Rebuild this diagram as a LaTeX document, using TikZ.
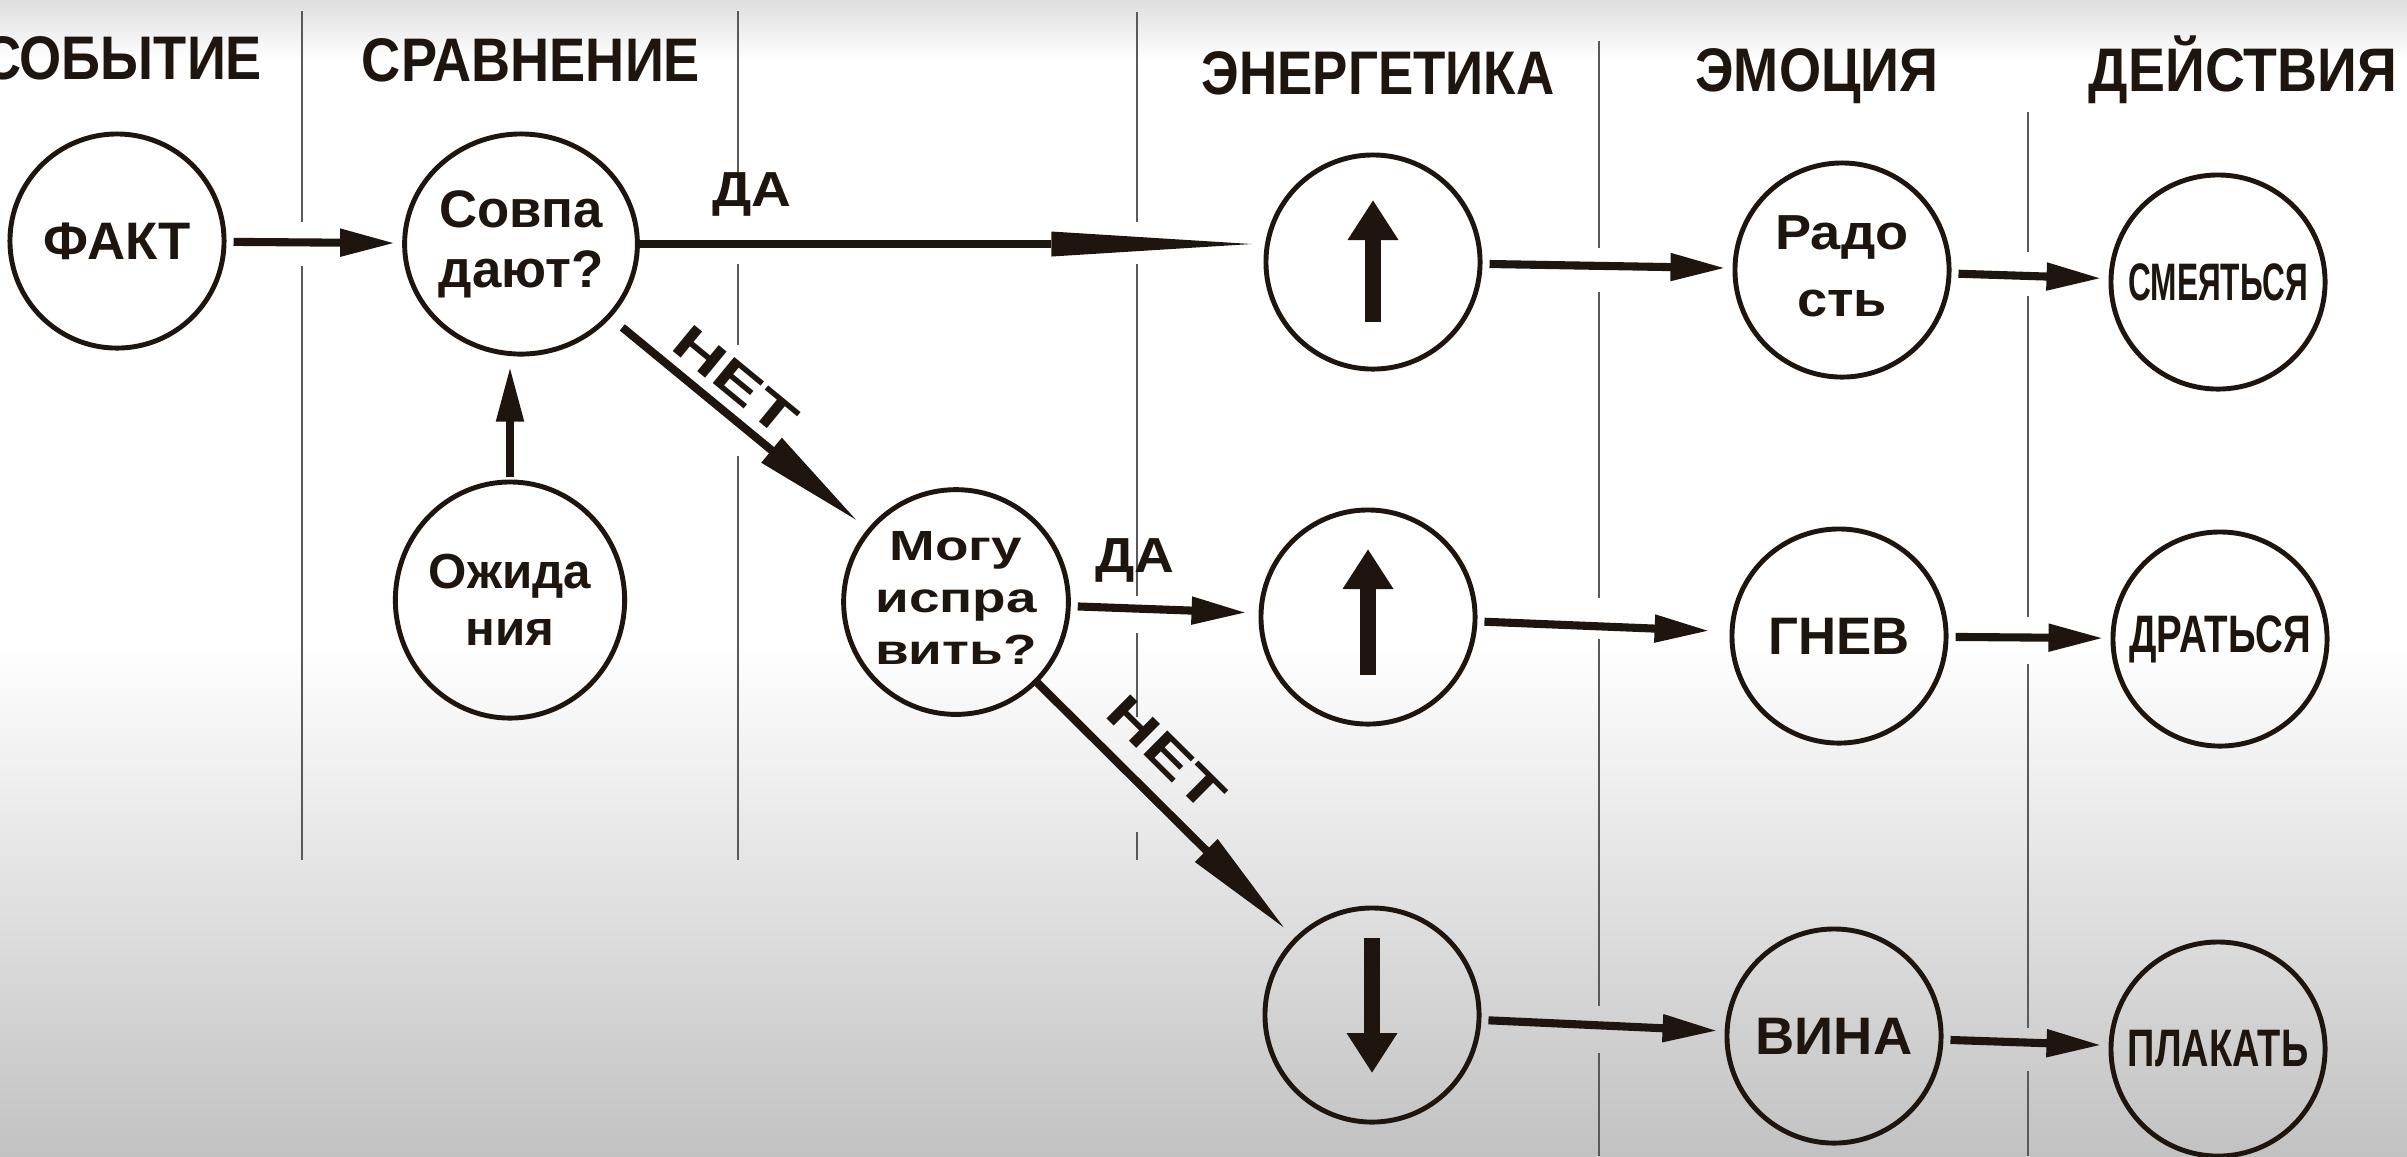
\documentclass[tikz,border=0pt]{standalone}
\usepackage{fontspec}
\setmainfont{Liberation Sans}
\usepackage{graphicx}
\usepackage{tikz}
\usetikzlibrary{positioning}
\usetikzlibrary{arrows.meta, shapes.geometric}
\definecolor{ink}{RGB}{30,22,14}
\newcommand{\wide}[2]{\scalebox{#1}[1]{\begin{tabular}{@{}c@{}}#2\end{tabular}}}

\begin{document}
\begin{tikzpicture}[x=0.01cm, y=-0.01cm,
  main/.style = {draw=ink, circle, line width=1.4pt, minimum size=2.14cm, inner sep=0pt, align=center, text=ink, font=\bfseries\fontsize{15}{17}\selectfont},
  oval/.style = {main, ellipse, minimum width=#1},
  colhead/.style = {anchor=base, inner sep=0pt, text=ink, font=\bfseries\fontsize{17.5}{20}\selectfont},
  lbl/.style = {inner sep=0pt, text=ink, font=\bfseries\fontsize{14}{16}\selectfont},
  flow/.style = {draw=ink, line width=2.3pt, -{Triangle[length=0.55cm, width=0.26cm]}, shorten <=0.07cm, shorten >=0.07cm},
  longflow/.style = {draw=ink, line width=2.3pt, -{Triangle[length=1.12cm, width=0.3cm]}, shorten >=0.12cm},
  energy/.style = {draw=ink, line width=4.8pt, -{Triangle[length=0.4cm, width=0.48cm]}},
  divider/.style = {draw=black!65, line width=0.8pt}]
% background
\useasboundingbox (0,0) rectangle (2407,1156);
\fill[white] (0,0) rectangle (2407,1156);
\shade[top color=white, bottom color=black!24] (0,640) rectangle (2407,1156);
\shade[top color=black!13, bottom color=white] (0,0) rectangle (2407,60);
% column lines
\foreach \x/\ya/\yb in {302/11/222, 302/266/860, 738/11/205, 738/264/345, 738/456/860,
  1137/12/222, 1137/264/596, 1137/633/717, 1137/832/860,
  1599/41/248, 1599/292/598, 1599/639/1006, 1599/1053/1156,
  2028/112/252, 2028/296/617, 2028/664/1028, 2028/1071/1156}
  \draw[divider] (\x,\ya) -- (\x,\yb);
% headers
\node[colhead] (h1) at (122,79) {\scalebox{0.88}[1]{СОБЫТИЕ}};
\node[colhead] (h2) at (531,81) {\scalebox{0.88}[1]{СРАВНЕНИЕ}};
\node[colhead] (h3) at (1378,94) {\scalebox{0.86}[1]{ЭНЕРГЕТИКА}};
\node[colhead] (h4) at (1817,91) {\scalebox{0.88}[1]{ЭМОЦИЯ}};
\node[colhead] (h5) at (2243,91) {\scalebox{0.9}[1]{ДЕЙСТВИЯ}};
% nodes
\node[main] (1) at (117,241) {ФАКТ};
\node[oval=2.26cm, minimum height=2.2cm] (2) at (521,244) {Совпа\\дают?};
\node[oval=2.08cm, minimum height=2.36cm, font=\bfseries\fontsize{14}{16.2}\selectfont] (3) at (510,600) {Ожида\\ния};
\node[main, font=\bfseries\fontsize{12}{14.8}\selectfont] (4) at (956,602) {\wide{1.3}{Могу\\испра\\вить?}};
\node[main] (5) at (1373,262) {};
\node[main] (6) at (1368,617) {};
\node[main] (7) at (1372,1015) {};
\node[main, font=\bfseries\fontsize{14}{19}\selectfont] (8) at (1842,270) {\wide{1.1}{Радо\\сть}};
\node[main] (9) at (1839,636) {ГНЕВ};
\node[main] (10) at (1834,1036) {\scalebox{1.03}[1]{ВИНА}};
\node[main] (11) at (2218,282) {\scalebox{0.6}[1]{СМЕЯТЬСЯ}};
\node[main] (12) at (2220,639) {\scalebox{0.73}[1]{ДРАТЬСЯ}};
\node[main] (13) at (2218,1049) {\scalebox{0.72}[1]{ПЛАКАТЬ}};
% arrows
\path (1) edge [flow] (2);
\path (3.north) edge [flow, shorten <=0.02cm, shorten >=0.1cm] (3.north |- 2.south);
\path (2.east) edge [longflow, -{Triangle[length=2cm, width=0.25cm, line width=0pt]}] node [lbl, pos=0.18, above=0.24cm] {\scalebox{1.12}[1]{ДА}} (5.west |- 2.east);
\path (2) edge [longflow, shorten <=0.15cm] node [lbl, sloped, pos=0.41, above=0.1cm] {\scalebox{1.45}[1]{НЕТ}} (4);
\path (4) edge [flow, shorten >=0.12cm] node [lbl, pos=0.34, above=0.22cm] {\scalebox{1.12}[1]{ДА}} (6);
\path (4) edge [longflow] node [lbl, sloped, pos=0.39, above=0.2cm] {\scalebox{1.45}[1]{НЕТ}} (7);
\path (5) edge [flow] (8);
\path (6) edge [flow, shorten >=0.2cm] (9);
\path (7) edge [flow] (10);
\path (8) edge [flow] (11);
\path (9) edge [flow] (12);
\path (10) edge [flow] (13);
% energy arrows
\draw[energy] ([yshift=-0.6cm]5.center) -- ([yshift=0.62cm]5.center);
\draw[energy] ([yshift=-0.58cm]6.center) -- ([yshift=0.68cm]6.center);
\draw[energy] ([yshift=0.77cm]7.center) -- ([yshift=-0.58cm]7.center);
\end{tikzpicture}
\end{document}
